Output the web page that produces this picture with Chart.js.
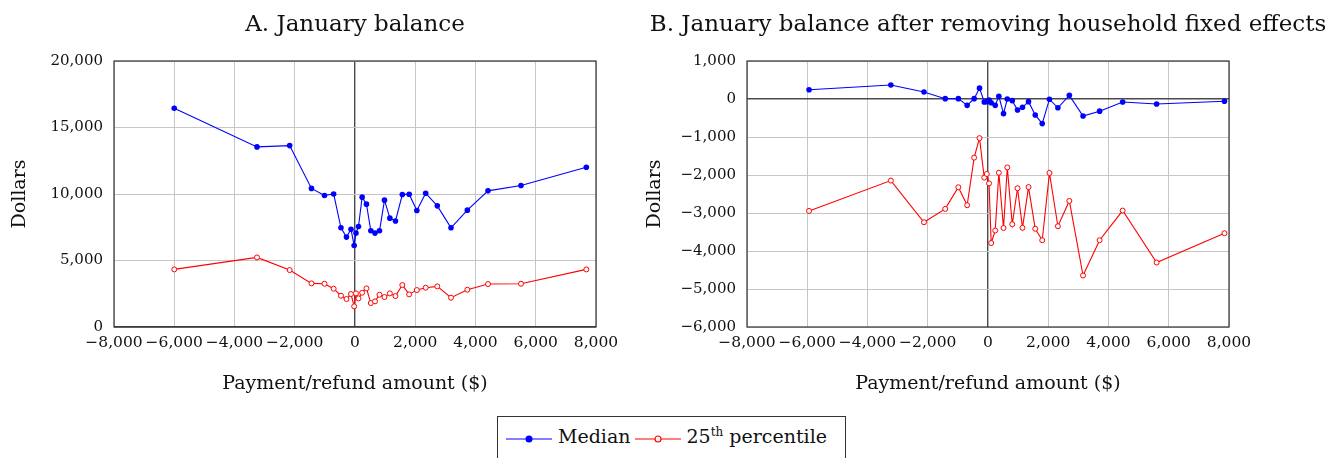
<!DOCTYPE html>
<html>
<head>
<meta charset="utf-8">
<script src="https://cdn.jsdelivr.net/npm/chart.js@4/dist/chart.umd.min.js"></script>
<style>
  body { margin: 0; background: #fff; width: 1326px; height: 458px; overflow: hidden; position: relative; font-family: 'DejaVu Serif', serif; }
  canvas { position: absolute; top: 0; }
  #legend { position: absolute; left: 497px; top: 416px; width: 349px; height: 60px; border: 1px solid #333; box-sizing: border-box;
            display: flex; align-items: flex-start; padding: 8px 0 0 8px; font-size: 19px; color: #111; }
  #legend svg { margin-top: 4px; }
  #legend span { margin: 0 4px 0 6px; white-space: nowrap; }
  #legend sup { font-size: 12px; }
</style>
</head>
<body>
<canvas id="panelA" width="640" height="400" style="left:0"></canvas>
<canvas id="panelB" width="686" height="400" style="left:640px"></canvas>
<div id="legend">
  <svg width="46" height="20"><line x1="0" y1="10" x2="46" y2="10" stroke="#0000ff" stroke-width="1.2"/><circle cx="23" cy="10" r="3.5" fill="#0000ff"/></svg>
  <span>Median</span>
  <svg width="46" height="20"><line x1="0" y1="10" x2="46" y2="10" stroke="#ff0000" stroke-width="1.2"/><circle cx="23" cy="10" r="3" fill="#fff" stroke="#ff0000" stroke-width="1.2"/></svg>
  <span>25<sup>th</sup> percentile</span>
</div>
<script>
// Panel A: January balance
const amountA = [-6000, -3253, -2169, -1445, -1013, -709, -466, -283, -133, -28, 33, 116, 237, 380, 526,
  664, 813, 979, 1157, 1344, 1571, 1798, 2053, 2346, 2732, 3187, 3729, 4415, 5510, 7679];
const medianA = [16445, 13541, 13640, 10420, 9886, 10000, 7458, 6758, 7345, 6131, 7059, 7557, 9762, 9237, 7233,
  7059, 7233, 9537, 8185, 7973, 9961, 9986, 8758, 10062, 9110, 7459, 8786, 10237, 10638, 12014];
const p25A = [4330, 5231, 4280, 3279, 3254, 2878, 2353, 2103, 2478, 1552, 2528, 2153, 2578, 2903, 1802,
  1927, 2428, 2253, 2528, 2328, 3154, 2453, 2778, 2954, 3054, 2203, 2803, 3229, 3254, 4330];

// Panel B: after removing household fixed effects
const amountB = [-5940, -3225, -2125, -1420, -985, -692, -460, -282, -125, -40, 35, 105, 240, 360, 515,
  640, 805, 980, 1145, 1345, 1568, 1800, 2040, 2320, 2700, 3155, 3705, 4470, 5597, 7850];
const medianB = [245, 368, 184, 9, 9, -167, 9, 285, -79, -70, -26, -100, -167, 70, -386,
  0, -44, -289, -219, -70, -420, -648, -5, -232, 96, -447, -320, -79, -131, -61];
const p25B = [-2945, -2147, -3243, -2892, -2322, -2796, -1543, -1030, -2068, -1972, -2220, -3790, -3462, -1940, -3395,
  -1800, -3295, -2349, -3390, -2318, -3415, -3716, -1946, -3348, -2682, -4645, -3716, -2936, -4303, -3532];

const xTicks = { min: -8000, max: 8000, step: 2000 };
const yTicksA = { min: 0, max: 20000, step: 5000 };
const yTicksB = { min: -6000, max: 1000, step: 1000 };

const FONT = "'DejaVu Serif', serif";
const GRID = '#c6c6c6';
const ZERO = '#4a4a4a';

function fmt(v) {
  return (v < 0 ? '\u2212' : '') + Math.abs(v).toLocaleString('en-US');
}

function pairs(xs, ys) {
  return xs.map((x, i) => ({ x, y: ys[i] }));
}

// title centred over the plot area, plus the closed frame
const panelDecor = {
  id: 'panelDecor',
  afterDraw(chart, args, opts) {
    const { ctx, chartArea: a } = chart;
    ctx.save();
    ctx.strokeStyle = '#333';
    ctx.lineWidth = 1.2;
    ctx.strokeRect(a.left, a.top, a.right - a.left, a.bottom - a.top);
    ctx.fillStyle = '#111';
    ctx.font = '23px ' + FONT;
    ctx.textAlign = 'center';
    ctx.textBaseline = 'alphabetic';
    ctx.fillText(opts.text, (a.left + a.right) / 2, 31);
    ctx.restore();
  }
};

function makePanel(id, opts) {
  return new Chart(document.getElementById(id), {
    type: 'line',
    data: {
      datasets: [
        {
          label: 'Median',
          data: pairs(opts.x, opts.median),
          borderColor: '#0000ff',
          backgroundColor: '#0000ff',
          borderWidth: 1.1,
          pointRadius: 2.8,
          pointBorderWidth: 0,
          pointBackgroundColor: '#0000ff',
          tension: 0
        },
        {
          label: '25th percentile',
          data: pairs(opts.x, opts.p25),
          borderColor: '#ff0000',
          backgroundColor: '#ffffff',
          borderWidth: 1.1,
          pointRadius: 2.5,
          pointBorderWidth: 1,
          pointBorderColor: '#ff0000',
          pointBackgroundColor: '#ffffff',
          tension: 0
        }
      ]
    },
    options: {
      responsive: false,
      animation: false,
      devicePixelRatio: 1,
      layout: { padding: { left: 0, right: opts.padRight, top: 61, bottom: 0 } },
      plugins: {
        legend: { display: false },
        tooltip: { enabled: false },
        panelDecor: { text: opts.title }
      },
      scales: {
        x: {
          type: 'linear',
          min: xTicks.min,
          max: xTicks.max,
          afterBuildTicks(scale) {
            const t = [];
            for (let v = xTicks.min; v <= xTicks.max; v += xTicks.step) t.push({ value: v });
            scale.ticks = t;
          },
          afterFit(scale) { scale.height = 73; },
          grid: {
            drawTicks: false,
            color: c => (c.tick && c.tick.value === 0 ? ZERO : GRID),
            lineWidth: c => (c.tick && c.tick.value === 0 ? 1.4 : 1)
          },
          border: { display: false },
          ticks: {
            autoSkip: false,
            maxRotation: 0,
            padding: 7,
            color: '#111',
            font: { family: FONT, size: 15.5 },
            callback: v => fmt(v)
          },
          title: {
            display: true,
            text: 'Payment/refund amount ($)',
            color: '#111',
            font: { family: FONT, size: 19 },
            padding: { top: 0, bottom: 5 }
          }
        },
        y: {
          min: opts.y.min,
          max: opts.y.max,
          afterBuildTicks(scale) {
            const t = [];
            for (let v = opts.y.min; v <= opts.y.max; v += opts.y.step) t.push({ value: v });
            scale.ticks = t;
          },
          afterFit(scale) { scale.width = opts.axisWidth; },
          grid: {
            drawTicks: false,
            color: c => (c.tick && c.tick.value === 0 ? ZERO : GRID),
            lineWidth: c => (c.tick && c.tick.value === 0 ? 1.4 : 1)
          },
          border: { display: false },
          ticks: {
            autoSkip: false,
            padding: 11,
            color: '#111',
            font: { family: FONT, size: 15 },
            callback: v => fmt(v)
          },
          title: {
            display: true,
            text: 'Dollars',
            color: '#111',
            font: { family: FONT, size: 19 },
            padding: { top: opts.titlePad, bottom: 0 }
          }
        }
      }
    },
    plugins: [panelDecor]
  });
}

makePanel('panelA', {
  title: 'A. January balance',
  x: amountA, median: medianA, p25: p25A,
  y: yTicksA, axisWidth: 114, padRight: 44, titlePad: 9
});

makePanel('panelB', {
  title: 'B. January balance after removing household fixed effects',
  x: amountB, median: medianB, p25: p25B,
  y: yTicksB, axisWidth: 107, padRight: 97, titlePad: 4
});
</script>
</body>
</html>
